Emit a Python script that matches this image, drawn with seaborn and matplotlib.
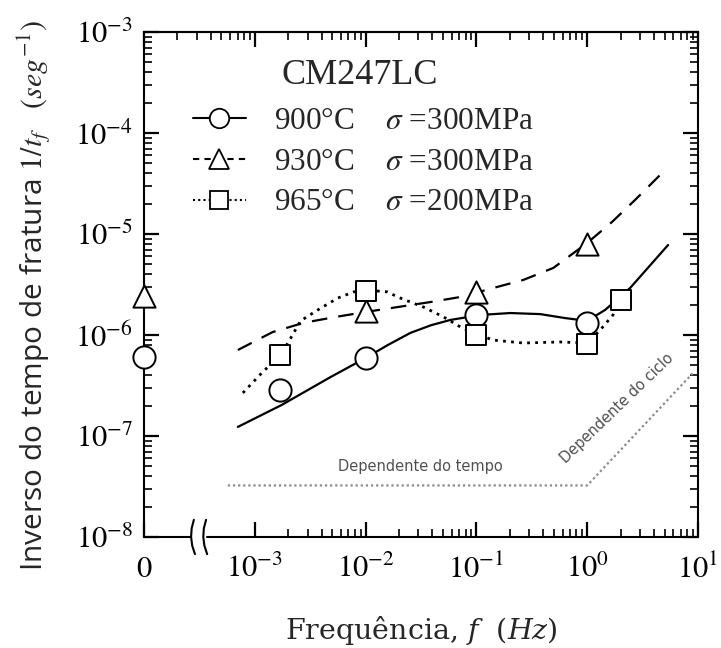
import math
import matplotlib
matplotlib.use("Agg")
import matplotlib.pyplot as plt
import seaborn as sns
from matplotlib.lines import Line2D
from matplotlib.ticker import FixedLocator, FuncFormatter, NullFormatter

# Measured rupture rates 1/t_f (1/s) against loading frequency (Hz).
# A frequency of 0 stands for static creep and sits on the broken part of the axis.
f_900 = [0, 1.7e-3, 1e-2, 1e-1, 1.0]
r_900 = [6.05e-7, 2.85e-7, 5.92e-7, 1.58e-6, 1.32e-6]
f_930 = [0, 1e-2, 1e-1, 1.0]
r_930 = [2.43e-6, 1.73e-6, 2.64e-6, 7.96e-6]
f_965 = [1.7e-3, 1e-2, 1e-1, 1.0, 2.0]
r_965 = [6.34e-7, 2.73e-6, 1.0e-6, 8.15e-7, 2.22e-6]

# Trend curves through each data set
fit_f_900 = [7.03e-4, 1.75e-3, 4.84e-3, 1.0e-2, 1.6e-2, 2.54e-2, 3.9e-2, 5.83e-2, 0.109, 0.202,
             0.377, 0.634, 1.0, 1.45, 2.44, 5.37]
fit_r_900 = [1.23e-7, 2.03e-7, 3.84e-7, 5.92e-7, 8.0e-7, 1.05e-6, 1.25e-6, 1.41e-6, 1.58e-6, 1.65e-6,
             1.61e-6, 1.47e-6, 1.38e-6, 1.77e-6, 2.92e-6, 7.78e-6]
fit_f_930 = [7.03e-4, 1.45e-3, 2.76e-3, 5.37e-3, 1.0e-2, 1.94e-2, 3.85e-2, 7.18e-2,
             0.142, 0.265, 0.494, 1.0, 1.68, 2.70, 4.84]
fit_r_930 = [7.10e-7, 1.07e-6, 1.32e-6, 1.51e-6, 1.69e-6, 1.89e-6, 2.12e-6, 2.38e-6,
             2.92e-6, 3.51e-6, 4.61e-6, 8.15e-6, 1.32e-5, 2.17e-5, 4.11e-5]
fit_f_965 = [7.80e-4, 1.18e-3, 1.71e-3, 2.11e-3, 2.59e-3, 3.70e-3, 5.60e-3, 7.80e-3,
             1.0e-2, 1.58e-2, 1.94e-2, 3.33e-2, 5.05e-2, 7.18e-2, 0.1, 0.142, 0.265,
             0.571, 1.0, 1.31, 1.71, 1.98]
fit_r_965 = [2.67e-7, 4.31e-7, 6.34e-7, 9.33e-7, 1.38e-6, 1.77e-6, 2.32e-6, 2.67e-6,
             2.79e-6, 2.67e-6, 2.38e-6, 1.89e-6, 1.51e-6, 1.20e-6, 1.02e-6, 8.91e-7,
             8.33e-7, 8.53e-7, 8.33e-7, 1.12e-6, 1.58e-6, 2.22e-6]

# Time-dependent / cycle-dependent regime boundary
regime_f = [5.71e-4, 1.0, 9.0]
regime_r = [3.24e-8, 3.24e-8, 4.2e-7]

labels_temp = ["900°C", "930°C", "965°C"]
labels_stress = ["300MPa", "300MPa", "200MPa"]

# Axis limits and the position used for frequency 0 on the broken axis
X_MIN, X_MAX = 1e-4, 1e1
Y_MIN, Y_MAX = 1e-8, 1e-3
ZERO_POS = X_MIN

sns.set_theme(style="ticks")
plt.rcParams.update({
    "font.family": ["Liberation Serif", "DejaVu Serif"],
    "mathtext.fontset": "stix",
    "axes.linewidth": 1.5,
    "axes.edgecolor": "black",
    "xtick.major.size": 11, "ytick.major.size": 11,
    "xtick.minor.size": 6, "ytick.minor.size": 6,
    "xtick.major.width": 1.6, "ytick.major.width": 1.6,
    "xtick.minor.width": 1.2, "ytick.minor.width": 1.2,
    "xtick.direction": "in", "ytick.direction": "in",
    "xtick.color": "black", "ytick.color": "black",
    "ytick.right": True,
})

fig, ax = plt.subplots(figsize=(7.21, 6.48), dpi=100)
fig.subplots_adjust(left=144 / 721, right=698 / 721, bottom=1 - 537 / 648, top=1 - 32 / 648)
ax.set_xscale("log")
ax.set_yscale("log")


def place(freqs):
    return [ZERO_POS if f == 0 else f for f in freqs]


# trend curves
sns.lineplot(x=fit_f_900, y=fit_r_900, ax=ax, color="black", lw=1.6,
             sort=False, estimator=None, linestyle="-", zorder=2)
sns.lineplot(x=fit_f_930, y=fit_r_930, ax=ax, color="black", lw=1.6,
             sort=False, estimator=None, linestyle=(0, (7, 5)), zorder=2)
sns.lineplot(x=fit_f_965, y=fit_r_965, ax=ax, color="black", lw=2.0,
             sort=False, estimator=None, linestyle=(0, (1, 1.9)), zorder=2)

# regime boundary
sns.lineplot(x=regime_f, y=regime_r, ax=ax, color="#8a8a8a", lw=1.6,
             sort=False, estimator=None, linestyle=(0, (1, 1.3)), zorder=1.5)

# measured points
mk = dict(facecolor="white", edgecolor="black", linewidth=1.4, clip_on=False, zorder=4)
sns.scatterplot(x=place(f_900), y=r_900, ax=ax, marker="o", s=16 ** 2, **mk)
sns.scatterplot(x=place(f_930), y=r_930, ax=ax, marker="^", s=16 ** 2, **mk)
sns.scatterplot(x=place(f_965), y=r_965, ax=ax, marker="s", s=14 ** 2, **mk)

ax.set_xlim(X_MIN, X_MAX)
ax.set_ylim(Y_MIN, Y_MAX)


def decade_fmt(v, _):
    return r"$10^{%d}$" % int(round(math.log10(v)))


def freq_fmt(v, pos):
    if abs(v - ZERO_POS) / ZERO_POS < 1e-6:
        return "$0$"
    return decade_fmt(v, pos)


# bottom axis: "0" then decades from 1e-3
ax.xaxis.set_major_locator(FixedLocator([1e-4, 1e-3, 1e-2, 1e-1, 1e0, 1e1]))
ax.xaxis.set_minor_locator(FixedLocator([k * 10.0 ** d for d in range(-3, 1) for k in range(2, 10)]))
ax.xaxis.set_major_formatter(FuncFormatter(freq_fmt))
ax.xaxis.set_minor_formatter(NullFormatter())
ax.yaxis.set_major_locator(FixedLocator([10.0 ** d for d in range(-8, -2)]))
ax.yaxis.set_minor_locator(FixedLocator([k * 10.0 ** d for d in range(-8, -3) for k in range(2, 10)]))
ax.yaxis.set_major_formatter(FuncFormatter(decade_fmt))
ax.yaxis.set_minor_formatter(NullFormatter())

ax.tick_params(which="both", direction="in", left=True, right=True, bottom=True, top=False,
               labelsize=22)
ax.tick_params(axis="x", pad=13)
ax.tick_params(axis="y", pad=8)

# top axis with complete log ticks over the whole range
top = ax.twiny()
top.set_xscale("log")
top.set_xlim(X_MIN, X_MAX)
top.xaxis.set_major_locator(FixedLocator([10.0 ** d for d in range(-4, 2)]))
top.xaxis.set_minor_locator(FixedLocator([k * 10.0 ** d for d in range(-4, 1) for k in range(2, 10)]))
top.xaxis.set_major_formatter(NullFormatter())
top.xaxis.set_minor_formatter(NullFormatter())
top.tick_params(which="both", direction="in", top=True, bottom=False,
                labeltop=False, labelbottom=False)
for side in ("bottom", "left", "right"):
    top.spines[side].set_visible(False)
top.spines["top"].set_linewidth(1.5)

# broken bottom spine
ax.spines["bottom"].set_visible(False)
b1, b2 = 0.088, 0.110
tr = ax.transAxes
ax.plot([0, b1 - 0.003], [0, 0], color="black", lw=1.5, transform=tr, clip_on=False, zorder=3)
ax.plot([b2 + 0.003, 1], [0, 0], color="black", lw=1.5, transform=tr, clip_on=False, zorder=3)
for xb in (b1, b2):
    ys = [0.034, 0.017, 0.0, -0.017, -0.034]
    xs = [xb + 0.002, xb - 0.002, xb - 0.003, xb - 0.001, xb + 0.004]
    ax.plot(xs, ys, color="black", lw=1.5, transform=tr, clip_on=False, zorder=3)

# labels
ax.set_ylabel(r"Inverso do tempo de fratura $1/t_f$   $(seg^{-1})$",
              family="Open Sans", fontsize=21.5, va="center")
ax.yaxis.set_label_coords(-0.197, 0.479)
ax.set_xlabel(r"Frequência, $f$  $(Hz)$", family="DejaVu Serif", fontsize=20.5,
              va="center", math_fontfamily="dejavuserif")
ax.xaxis.set_label_coords(0.5, -0.185)

ax.text(0.249, 0.913, "CM247LC", transform=tr, fontsize=26, ha="left", va="center")

handles = [
    Line2D([], [], color="black", lw=1.5, ls="-", marker="o", ms=14,
           mfc="white", mec="black", mew=1.3),
    Line2D([], [], color="black", lw=1.5, ls=(0, (3, 2.5)), marker="^", ms=14,
           mfc="white", mec="black", mew=1.3),
    Line2D([], [], color="black", lw=1.5, ls=(0, (1, 1.5)), marker="s", ms=13,
           mfc="white", mec="black", mew=1.3),
]
leg_labels = [f"{t}    $\\sigma$ ={s}" for t, s in zip(labels_temp, labels_stress)]
ax.legend(handles, leg_labels, loc="upper left", bbox_to_anchor=(0.088, 0.852),
          frameon=False, handlelength=1.7, handletextpad=0.9, labelspacing=0.38,
          borderpad=0, borderaxespad=0, prop={"family": "Liberation Serif", "size": 22.5})

ax.text(0.498, 0.139, "Dependente do tempo", transform=tr, fontsize=10.5,
        family="DejaVu Sans", color="#505050", ha="center", va="center")
ax.text(0.854, 0.255, "Dependente do ciclo", transform=tr, fontsize=10.5,
        family="DejaVu Sans", color="#505050", ha="center", va="center",
        rotation=44, rotation_mode="anchor")

fig.savefig("out.png", dpi=100)
